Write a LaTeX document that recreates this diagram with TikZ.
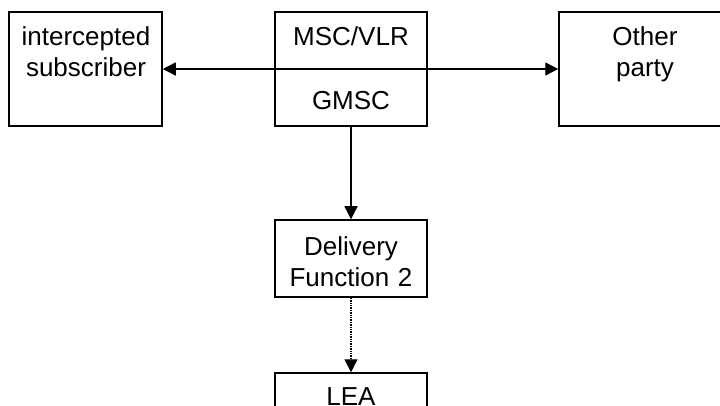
\documentclass[tikz,border=0pt]{standalone}
\usepackage{fontspec}
\setmainfont{Liberation Sans}
\usetikzlibrary{arrows.meta}

\begin{document}
\begin{tikzpicture}[x=1pt, y=-1pt,
  box/.style={draw, line width=1.5pt, inner sep=0pt, minimum height=114pt},
  txt/.style={font=\fontsize{26}{31}\selectfont, align=center, text width=150pt, inner sep=0pt, anchor=base},
  arr/.style={line width=1.4pt, -{Triangle[length=13pt,width=13pt]}},
  dblarr/.style={line width=1.4pt, {Triangle[length=13pt,width=13pt]}-{Triangle[length=13pt,width=13pt]}}]
\useasboundingbox (0,0) rectangle (720,406);
\clip (0,0) rectangle (720,406);
% boxes
\node[box, minimum width=153pt] (sub) at (85.5,69) {};
\node[box, minimum width=152pt] (msc) at (351,69) {};
\node[box, minimum width=172pt] (other) at (645,69) {};
\node[box, minimum width=152pt, minimum height=77pt] (dlv) at (351,258.5) {};
\node[box, minimum width=152pt, minimum height=77pt] (lea) at (351,411.5) {};
% texts
\node[txt] (sub-t) at (86,46) {intercepted\\subscriber};
\node[txt] (msc-t) at (351,46) {MSC/VLR};
\node[txt] (gmsc-t) at (351,110) {GMSC};
\node[txt] (other-t) at (645,46) {Other\\party};
\node[txt] (dlv-t) at (351,255) {Delivery\\Function 2};
\node[txt] (lea-t) at (351,405) {LEA};
% links
\draw[dblarr] (sub) -- (other);
\draw[arr] (msc) -- (dlv);
\draw[arr, densely dotted] (dlv) -- (lea);
\end{tikzpicture}
\end{document}
